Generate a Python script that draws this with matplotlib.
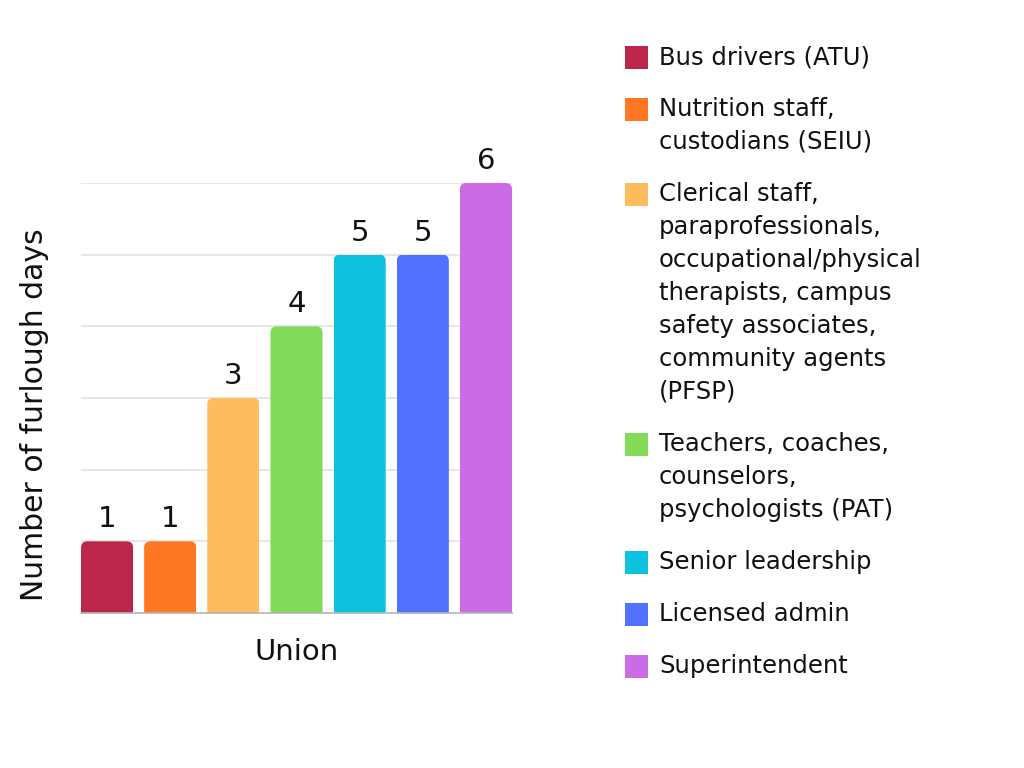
import matplotlib.pyplot as plt
from matplotlib.patches import FancyBboxPatch

# data
groups = ["Bus drivers (ATU)",
          "Nutrition staff,\ncustodians (SEIU)",
          "Clerical staff,\nparaprofessionals,\noccupational/physical\ntherapists, campus\nsafety associates,\ncommunity agents\n(PFSP)",
          "Teachers, coaches,\ncounselors,\npsychologists (PAT)",
          "Senior leadership",
          "Licensed admin",
          "Superintendent"]
furlough_days = [1, 1, 3, 4, 5, 5, 6]
colors = ["#BC264A", "#FF7722", "#FDBD5C", "#82DB58", "#0EC1DF", "#5271FF", "#CB6CE6"]

plt.rcParams['font.family'] = ['DejaVu Sans']

fig = plt.figure(figsize=(10.24, 7.68), dpi=100)
ax = fig.add_axes([81 / 1024, 1 - 613 / 768, 431 / 1024, 430 / 768])

width = 0.825
x = list(range(len(furlough_days)))

bars = ax.bar(x, furlough_days, width=width, color=colors, zorder=3)
# round the top corners by clipping each bar with a rounded box that runs below the baseline
for b, v in zip(bars, furlough_days):
    clip = FancyBboxPatch((b.get_x(), -1), b.get_width(), v + 1,
                          boxstyle="round,pad=0,rounding_size=0.1",
                          mutation_aspect=63 / 71.7,
                          transform=ax.transData, facecolor="none", edgecolor="none")
    b.set_clip_path(clip)
    ax.text(b.get_x() + b.get_width() / 2, v + 0.11, str(v), ha="center", va="bottom",
            fontsize=21, color="#111111", clip_on=False)

ax.set_xlim(-width / 2, len(x) - 1 + width / 2)
ax.set_ylim(0, 6)
ax.set_yticks([1, 2, 3, 4, 5, 6])
ax.set_xticks([])
ax.tick_params(axis="y", length=0, labelleft=False)
ax.grid(axis="y", color="#e3e3e3", linewidth=1.2, zorder=0)
for s in ["top", "right", "left"]:
    ax.spines[s].set_visible(False)
ax.spines["bottom"].set_color("#b5b5b5")
ax.spines["bottom"].set_linewidth(1.2)
ax.spines["bottom"].set_zorder(4)

ax.set_xlabel("Union", fontsize=21, labelpad=18, color="#111111")
fig.text(35 / 1024, 1 - 415 / 768, "Number of furlough days", rotation=90,
         ha="center", va="center", fontsize=21.5, color="#111111")

# legend drawn by hand so the swatch sits next to the first line
y = 57
line_h = 33
for label, c in zip(groups, colors):
    fig.patches.append(plt.Rectangle((625 / 1024, 1 - (y + 11.5) / 768), 23 / 1024, 23 / 768,
                                     transform=fig.transFigure, facecolor=c, edgecolor="none"))
    lines = label.split("\n")
    for i, ln in enumerate(lines):
        fig.text(659 / 1024, 1 - (y + i * line_h) / 768, ln, ha="left", va="center",
                 fontsize=17.5, color="#111111")
    y += (len(lines) - 1) * line_h + 52

fig.savefig("out.png", dpi=100, facecolor="white")
